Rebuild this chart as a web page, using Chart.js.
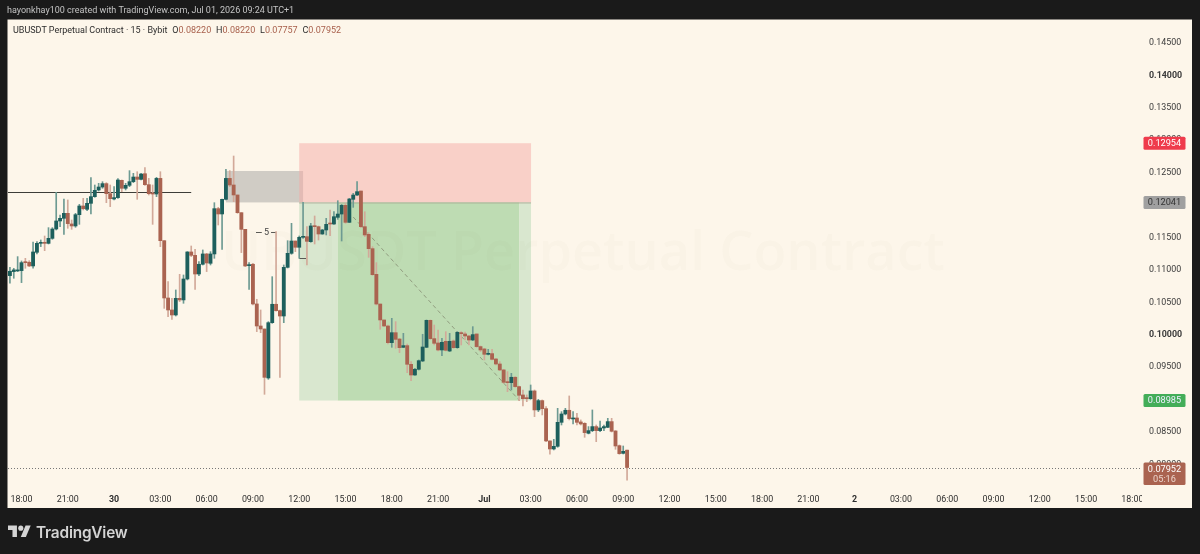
<!DOCTYPE html>
<html><head><meta charset="utf-8">
<style>
html,body{margin:0;padding:0;background:#1a1a1a;overflow:hidden;width:1200px;height:554px}
canvas{position:absolute;left:0;top:0;filter:blur(.3px)}
.t{position:absolute;white-space:nowrap;font-family:Roboto,sans-serif}
#hdr{left:7px;top:5px;font-size:9px;color:#c4c4c4}
#lg{left:13px;top:25px;font-size:9px;color:#2c2c2c}
#lg b{font-weight:400;color:#a8604c}
#lg span{margin-left:2.6px}
#brand{left:36px;top:523px;font-size:15.4px;font-weight:600;color:#d4d4d4;font-family:Inter,Roboto,sans-serif;letter-spacing:-.2px}
#logo{position:absolute;left:8px;top:523px}
</style></head><body>
<canvas id="c" width="1200" height="554"></canvas>
<div class="t" id="hdr">hayonkhay100 created with TradingView.com, Jul 01, 2026 09:24 UTC+1</div>
<div class="t" id="lg">UBUSDT Perpetual Contract · 15 · Bybit <span>O<b>0.08220</b></span> <span>H<b>0.08220</b></span> <span>L<b>0.07757</b></span> <span>C<b>0.07952</b></span></div>
<svg id="logo" width="23" height="18" viewBox="0 0 36 28"><path fill="#d4d4d4" d="M14 22H7V11H0V4h14v18z"/><circle fill="#d4d4d4" cx="20" cy="8" r="4"/><path fill="#d4d4d4" d="M28 22h-8l7.5-18h8z"/></svg>
<div class="t" id="brand">TradingView</div>
<script src="https://cdn.jsdelivr.net/npm/chart.js@4"></script>
<script>
const tickLabels=["18:00","21:00","30","03:00","06:00","09:00","12:00","15:00","18:00","21:00","Jul","03:00","06:00","09:00","12:00","15:00","18:00","21:00","2","03:00","06:00","09:00","12:00","15:00","18:00"];
const boldLabels=["30","Jul","2"];
const opens=[.10912,.10974,.10984,.10989,.11123,.11118,.11061,.11272,.11410,.11426,.11410,.11487,.11631,.11755,.11796,.11873,.11709,.11678,.11852,.11986,.11935,.12027,.1213,.12233,.12279,.12331,.12176,.12094,.12115,.12382,.12259,.12305,.12361,.12433,.12397,.12484,.12315,.12181,.12171,.12412,.11451,.10567,.10382,.10305,.10562,.10537,.1086,.11277,.11225,.10937,.11087,.11246,.11102,.11246,.11945,.11863,.12089,.12412,.1231,.12156,.11883,.11626,.11066,.11087,.10475,.10135,.10089,.09333,.10186,.1047,.10372,.10289,.1104,.11256,.11446,.11349,.11503,.11513,.11436,.11682,.11667,.11554,.11616,.11719,.11708,.11811,.11862,.11996,.11734,.12089,.12155,.12217,.11667,.11549,.11328,.10932,.10474,.10228,.10135,.09878,.10032,.09934,.09806,.09832,.09544,.09379,.09467,.09595,.09806,.10222,.0994,.09873,.09765,.09899,.09749,.09904,.09801,.10032,.10012,.09981,.09919,.10012,.09817,.09781,.09698,.09709,.09626,.09549,.09457,.09271,.09261,.09344,.092,.09071,.09025,.09014,.09133,.0884,.08984,.0886,.08362,.08238,.08279,.08649,.08778,.08835,.08701,.08716,.08655,.08634,.0848,.08521,.08583,.08521,.08562,.08572,.0866,.08516,.08289,.08171,.0822];
const highs=[.1104,.11025,.11205,.11138,.11179,.11143,.11431,.11436,.11462,.11523,.11652,.11652,.12197,.11847,.12094,.12079,.1177,.11873,.12012,.12104,.12104,.12423,.1231,.12336,.12361,.12346,.1231,.12284,.12407,.12387,.12336,.12531,.1249,.12515,.1249,.12577,.12412,.1231,.12428,.12515,.11451,.10819,.10562,.10691,.10932,.10922,.11282,.11369,.11318,.11128,.11308,.11256,.11282,.12037,.11965,.12094,.12551,.12531,.12757,.12156,.11883,.11626,.11112,.11102,.10547,.10382,.10089,.10202,.10896,.1159,.10382,.11076,.11451,.11719,.11446,.11523,.12043,.11667,.11719,.11832,.11677,.11626,.11796,.11924,.11898,.12068,.12011,.12027,.12104,.12181,.12361,.12217,.11898,.11574,.11359,.11112,.10474,.10228,.1015,.10253,.10202,.09945,.10022,.09857,.09585,.09482,.09611,.10007,.10228,.10228,.1015,.10073,.09945,.10048,.10022,.0992,.10048,.10048,.10043,.09991,.10125,.10012,.09827,.09791,.09775,.09775,.09636,.09585,.09467,.09431,.09405,.09354,.0921,.09148,.09071,.09225,.09148,.09004,.08994,.08891,.08362,.08387,.08865,.08814,.08865,.09056,.08814,.08788,.08686,.08644,.08583,.0884,.08608,.0867,.08608,.08711,.08711,.08521,.083,.08284,.0822];
const lows=[.10794,.10871,.10974,.10804,.11025,.11051,.11025,.11246,.11359,.11297,.114,.11472,.11616,.11667,.11549,.11642,.11626,.11657,.11703,.11925,.11914,.11863,.1212,.12217,.12259,.12037,.11976,.12079,.12104,.12207,.12233,.12284,.12346,.12089,.12387,.12305,.12156,.11703,.1213,.11359,.10407,.10279,.10238,.10289,.10511,.10485,.10845,.11205,.10701,.10912,.11076,.10974,.11076,.11179,.11693,.11318,.12079,.12284,.12053,.11873,.11267,.11051,.10701,.1046,.10048,.10032,.09081,.09312,.10176,.10362,.09343,.10186,.1103,.11241,.11282,.11179,.11487,.11076,.11426,.114,.11461,.11549,.11539,.11528,.11703,.1178,.11446,.11719,.11729,.11965,.12145,.11652,.11513,.11194,.10916,.10459,.10084,.10125,.09857,.09806,.09791,.09724,.09801,.09415,.09292,.09374,.09456,.09585,.09801,.09929,.09842,.09749,.09677,.09749,.09739,.09791,.09791,.09842,.09919,.09842,.09909,.09806,.0974,.09611,.09688,.09611,.09534,.09446,.09251,.09122,.09148,.09189,.08984,.08901,.08968,.09004,.08737,.08814,.08763,.08351,.08156,.08223,.08264,.08608,.08763,.08686,.08624,.08608,.08608,.08418,.0847,.08505,.08351,.08505,.08521,.08567,.085,.08233,.08156,.08161,.07757];
const closes=[.10979,.11,.11,.11112,.11112,.11061,.11277,.1141,.1142,.1141,.11487,.11631,.11755,.11796,.11873,.11714,.11678,.11852,.11986,.11945,.12027,.1213,.12228,.12279,.12331,.12176,.12099,.12115,.12387,.12259,.12305,.12361,.12433,.12397,.12479,.12315,.12176,.12171,.12412,.11451,.10567,.10382,.10305,.10562,.10537,.1086,.11277,.11225,.10937,.11087,.11246,.11107,.11246,.11945,.11863,.12089,.12412,.1231,.12156,.11883,.11626,.11061,.11081,.10475,.10135,.10089,.09343,.10186,.1047,.10372,.10289,.1104,.11256,.11446,.11349,.11503,.11513,.11441,.11678,.11667,.11554,.11616,.11703,.11708,.11821,.11862,.11996,.11734,.12094,.12155,.12207,.11667,.11539,.11328,.10927,.10474,.10228,.10135,.09878,.10032,.09929,.09801,.09832,.09544,.09379,.09467,.096,.09811,.10222,.0994,.09868,.09765,.09883,.0976,.09899,.09801,.10037,.10017,.09981,.09919,.10002,.09817,.09765,.09698,.09709,.09621,.09549,.09457,.09266,.09261,.09344,.092,.09066,.09014,.09014,.09133,.0884,.08984,.0886,.08362,.08238,.08279,.08649,.08778,.08835,.08706,.08716,.08649,.08624,.0849,.08521,.08583,.08521,.08562,.08583,.0866,.08511,.08284,.08166,.08202,.07952];

const slotCount=294, firstTickSlot=3;
const categories=[];
for(let i=0;i<slotCount;i++){const k=i-firstTickSlot;categories.push(k>=0&&k%12===0?tickLabels[k/12]:"");}

const stopPrice=.12954, entryPrice=.12041, targetPrice=.08985, lastPrice=.07952;
const posStart=75, posLightEnd=85, posDarkEnd=132, posEnd=135.1;
const zoneStart=56, zoneEnd=76, zoneTop=.12526;
const levelPrice=.12202, levelEnd=47;
const pathX=[89,132.2], pathY=[.11816,.08978];
const bracketX=[63.8,65.3,67.7,69], bracketPrice=.11585;
const markX=[75,76.8], markPrice=.11184;
const BG="#fdf6ea",UP="#1d5f5c",DN="#aa6350",UPW="#6d9a92",DNW="#d2a999";

const isUp=i=>closes[i]>=opens[i];
const decor={id:"decor",
 beforeDraw(c){const g=c.ctx;g.save();g.fillStyle=BG;g.fillRect(7.5,19.5,1184.5,488.5);g.restore();},
 beforeDatasetsDraw(c){const g=c.ctx,x=c.scales.x,y=c.scales.y,X=v=>x.getPixelForValue(v),Y=v=>y.getPixelForValue(v);
  g.save();
  const rect=(a,b,t,u,col)=>{g.fillStyle=col;g.fillRect(X(a),Y(t),X(b)-X(a),Y(u)-Y(t));};
  rect(zoneStart,zoneEnd,zoneTop,entryPrice,"#d0ccc5");
  rect(posStart,posEnd,stopPrice,entryPrice,"rgba(246,170,165,0.5)");
  rect(posStart,posLightEnd,entryPrice,targetPrice,"#d9e7cf");
  rect(posLightEnd,posDarkEnd,entryPrice,targetPrice,"#bedcb3");
  rect(posDarkEnd,posEnd,entryPrice,targetPrice,"#d9e7cf");
  g.fillStyle="rgba(120,90,40,0.018)";g.font="600 54px 'Open Sans',sans-serif";g.textAlign="center";g.textBaseline="middle";
  g.fillText("UBUSDT Perpetual Contract",583,255);
  g.strokeStyle="rgba(160,160,140,0.8)";g.lineWidth=1;g.beginPath();g.moveTo(X(posStart),Y(entryPrice)+.5);g.lineTo(X(posEnd),Y(entryPrice)+.5);g.stroke();
  g.strokeStyle="#3d3d38";g.lineWidth=1;g.beginPath();g.moveTo(X(-.5),Math.round(Y(levelPrice))+.5);g.lineTo(X(levelEnd),Math.round(Y(levelPrice))+.5);g.stroke();
  g.strokeStyle="rgba(125,130,105,.7)";g.setLineDash([4,3]);g.beginPath();g.moveTo(X(pathX[0]),Y(pathY[0]));g.lineTo(X(pathX[1]),Y(pathY[1]));g.stroke();g.setLineDash([]);
  g.strokeStyle="#777";g.setLineDash([1,2]);g.beginPath();g.moveTo(8,Math.round(Y(lastPrice))+.5);g.lineTo(1142,Math.round(Y(lastPrice))+.5);g.stroke();g.setLineDash([]);
  g.strokeStyle="#5a5a55";g.beginPath();const by=Math.round(Y(bracketPrice))+.5;g.moveTo(X(bracketX[0]),by);g.lineTo(X(bracketX[1]),by);g.moveTo(X(bracketX[2]),by);g.lineTo(X(bracketX[3]),by);
  const my=Math.round(Y(markPrice))+.5;g.moveTo(X(markX[0]),my);g.lineTo(X(markX[1]),my);g.stroke();
  g.fillStyle="#444";g.font="9px Roboto";g.textAlign="center";g.fillText("5",(X(bracketX[1])+X(bracketX[2]))/2,by);
  g.restore();},
 afterDraw(c){const g=c.ctx,y=c.scales.y;g.save();
  g.fillStyle=BG;g.fillRect(1142,488,50,20);
  g.font="9.2px Roboto";g.textAlign="center";g.textBaseline="middle";
  const tag=(p,col,txt,tc)=>{const m=y.getPixelForValue(p);g.fillStyle=col;g.beginPath();g.roundRect(1143.5,m-6.5,42,13,1.5);g.fill();g.fillStyle=tc;g.fillText(txt,1164.5,m+.5);};
  tag(stopPrice,"#ef3b4c",stopPrice.toFixed(5),"#fff");
  tag(entryPrice,"#a0a0a0",entryPrice.toFixed(5),"#333");
  tag(targetPrice,"#43ad58",targetPrice.toFixed(5),"#eef");
  const m=y.getPixelForValue(lastPrice);g.fillStyle=DN;g.beginPath();g.roundRect(1143.5,m-5,42,22.5,1.5);g.fill();
  g.fillStyle="#fff";g.fillText(lastPrice.toFixed(5),1164.5,m+2);g.fillStyle="#ecd5cc";g.fillText("05:16",1164.5,m+12.5);
  g.restore();}
};

new Chart(document.getElementById("c"),{type:"bar",plugins:[decor],
 data:{labels:categories,datasets:[
  {data:opens.map((o,i)=>[lows[i],highs[i]]),backgroundColor:opens.map((o,i)=>isUp(i)?UPW:DNW),barThickness:1,grouped:false,order:2},
  {data:opens.map((o,i)=>[o,closes[i]]),backgroundColor:opens.map((o,i)=>isUp(i)?UP:DN),barThickness:3.2,grouped:false,order:1,minBarLength:1}
 ]},
 options:{responsive:false,animation:false,devicePixelRatio:1,
  layout:{padding:{left:8,top:20,right:8,bottom:46}},
  plugins:{legend:{display:false},tooltip:{enabled:false},title:{display:false}},
  scales:{
   x:{type:"category",offset:true,grid:{display:false,drawTicks:false},border:{display:false},
    afterFit(s){s.height=20;},
    ticks:{autoSkip:false,maxRotation:0,minRotation:0,padding:6,color:"#2e2e2e",
     font(ctx){const l=categories[ctx.index];return {family:"Roboto",size:8.9,weight:boldLabels.includes(l)?"700":"400"};},
     callback(v,i){return categories[i];}}},
   y:{type:"linear",position:"right",min:.07636,max:.14855,grid:{display:false,drawTicks:false},border:{display:false},
    afterFit(s){s.width=50;},
    ticks:{stepSize:.005,includeBounds:false,padding:7,color:"#3a3a3a",
     font(ctx){const v=ctx.tick?ctx.tick.value:0;const b=Math.abs(v-.14)<1e-6||Math.abs(v-.1)<1e-6;return {family:"Roboto",size:8.9,weight:b?"700":"400"};},
     callback(v){return v.toFixed(5);}}}
  }}
});
</script>
</body></html>
